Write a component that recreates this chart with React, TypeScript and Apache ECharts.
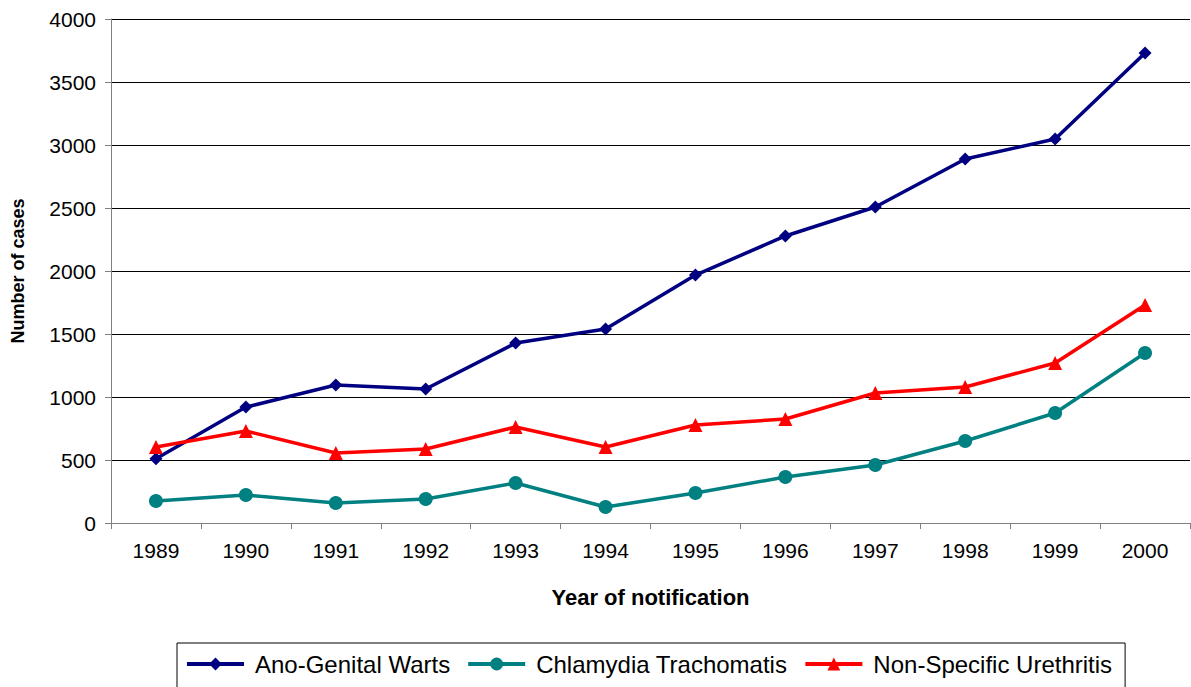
import React, { useEffect, useRef } from "react";
import * as echarts from "echarts";

const years = ["1989", "1990", "1991", "1992", "1993", "1994", "1995", "1996", "1997", "1998", "1999", "2000"];
const anoGenitalWarts = [510, 920, 1095, 1063, 1428, 1540, 1968, 2278, 2508, 2889, 3048, 3730];
const chlamydia = [175, 222, 159, 190, 317, 127, 238, 365, 460, 651, 873, 1349];
const nsu = [603, 730, 556, 587, 762, 603, 778, 825, 1032, 1079, 1270, 1730];

const FONT = "'Liberation Sans', Arial, sans-serif";

export default function App() {
  const ref = useRef<HTMLDivElement>(null);
  useEffect(() => {
    document.body.style.margin = "0";
    const chart = echarts.init(ref.current!, null, { renderer: "svg" });
    const mk = (name: string, data: number[], color: string, symbol: string, size: number) => ({
      name,
      type: "line",
      data,
      symbol,
      symbolSize: size,
      showAllSymbol: true,
      lineStyle: { color, width: 3.5 },
      itemStyle: { color },
    });
    chart.setOption({
      animation: false,
      backgroundColor: "#ffffff",
      textStyle: { fontFamily: FONT },
      grid: { left: 111, right: 1, top: 19, bottom: 164, containLabel: false },
      xAxis: {
        type: "category",
        data: years,
        boundaryGap: true,
        name: "Year of notification",
        nameLocation: "middle",
        nameGap: 63,
        nameTextStyle: { fontFamily: FONT, fontSize: 22, fontWeight: "bold", color: "#000" },
        axisLine: { show: true, lineStyle: { color: "#808080", width: 1 } },
        axisTick: { show: true, interval: 0, length: 6, lineStyle: { color: "#808080" } },
        axisLabel: { fontFamily: FONT, fontSize: 21, color: "#000", margin: 17, interval: 0 },
        splitLine: { show: false },
      },
      yAxis: {
        type: "value",
        min: 0,
        max: 4000,
        interval: 500,
        name: "Number of cases",
        nameLocation: "middle",
        nameGap: 84,
        nameTextStyle: { fontFamily: FONT, fontSize: 18, fontWeight: "bold", color: "#000" },
        axisLine: { show: true, lineStyle: { color: "#808080", width: 1 } },
        axisTick: { show: true, length: 6, lineStyle: { color: "#808080" } },
        axisLabel: {
          fontFamily: FONT,
          fontSize: 21,
          color: "#000",
          margin: 15,
          formatter: (v: number) => String(v),
        },
        splitLine: { show: true, lineStyle: { color: "#000", width: 1 } },
      },
      legend: {
        left: 177,
        top: 643,
        orient: "horizontal",
        borderColor: "#000",
        borderWidth: 1,
        padding: [9, 13, 14, 8],
        itemWidth: 57,
        itemHeight: 16,
        itemGap: 16,
        lineStyle: { width: 4 },
        textStyle: { fontFamily: FONT, fontSize: 24, color: "#000", padding: [0, 0, 0, 6] },
        data: ["Ano-Genital Warts", "Chlamydia Trachomatis", "Non-Specific Urethritis"],
      },
      series: [
        mk("Ano-Genital Warts", anoGenitalWarts, "#000080", "diamond", 13),
        mk("Chlamydia Trachomatis", chlamydia, "#008080", "circle", 14),
        mk("Non-Specific Urethritis", nsu, "#ff0000", "triangle", 14),
      ],
    });
    return () => chart.dispose();
  }, []);
  return <div ref={ref} style={{ width: 1191, height: 687 }} />;
}
